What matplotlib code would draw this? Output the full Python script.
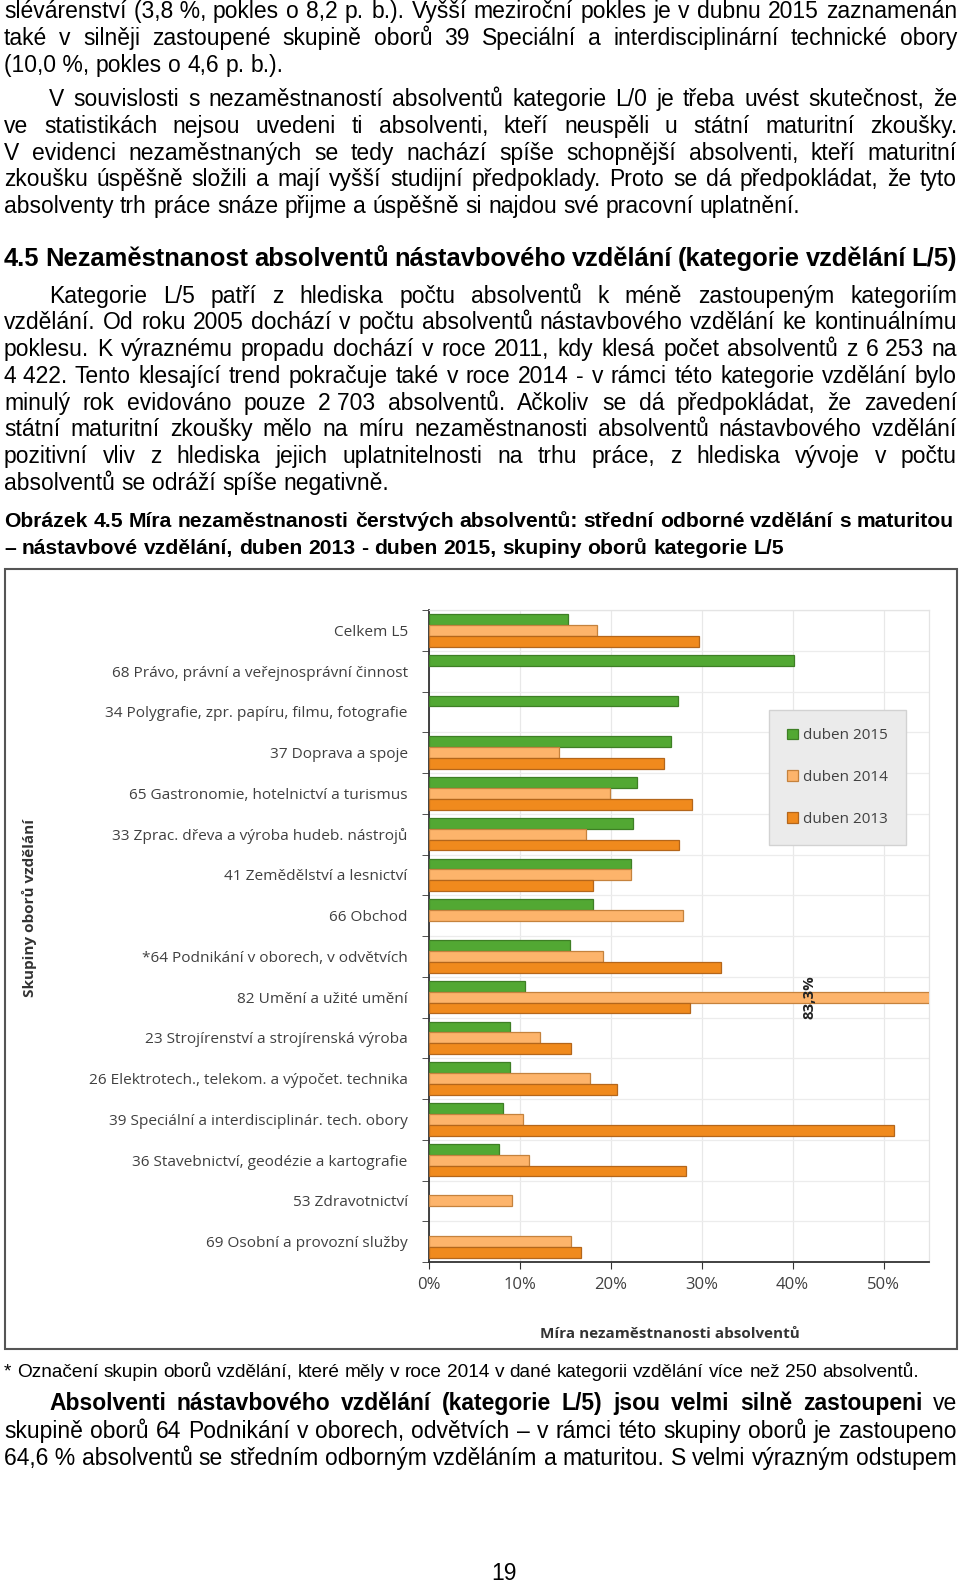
import matplotlib
matplotlib.use("Agg")
import matplotlib.pyplot as plt
from matplotlib.patches import Rectangle, Patch
import numpy as np

# ---- chart data ----
categories = [
    "Celkem L5",
    "68 Právo, právní a veřejnosprávní činnost",
    "34 Polygrafie, zpr. papíru, filmu, fotografie",
    "37 Doprava a spoje",
    "65 Gastronomie, hotelnictví a turismus",
    "33 Zprac. dřeva a výroba hudeb. nástrojů",
    "41 Zemědělství a lesnictví",
    "66 Obchod",
    "*64 Podnikání v oborech, v odvětvích",
    "82 Umění a užité umění",
    "23 Strojírenství a strojírenská výroba",
    "26 Elektrotech., telekom. a výpočet. technika",
    "39 Speciální a interdisciplinár. tech. obory",
    "36 Stavebnictví, geodézie a kartografie",
    "53 Zdravotnictví",
    "69 Osobní a provozní služby",
]
nan = np.nan
duben_2015 = [15.3, 40.2, 27.4, 26.7, 22.9, 22.5, 22.3, 18.1, 15.5, 10.6, 9.0, 9.0, 8.2, 7.7, nan, nan]
duben_2014 = [18.5, nan, nan, 14.3, 19.9, 17.3, 22.3, 28.0, 19.2, 83.3, 12.2, 17.8, 10.4, 11.0, 9.2, 15.7]
duben_2013 = [29.7, nan, nan, 25.9, 29.0, 27.5, 18.1, nan, 32.1, 28.7, 15.7, 20.7, 51.2, 28.3, nan, 16.8]
series_names = ["duben 2015", "duben 2014", "duben 2013"]
x_ticks = [0, 10, 20, 30, 40, 50]
x_ticklabels = ["0%", "10%", "20%", "30%", "40%", "50%"]

# ---- page text ----
par0 = [
    "slévárenství (3,8\u00a0%, pokles o 8,2 p. b.). Vyšší meziroční pokles je v dubnu 2015 zaznamenán",
    "také v silněji zastoupené skupině oborů 39 Speciální a interdisciplinární technické obory",
    "(10,0\u00a0%, pokles o 4,6 p. b.).",
]
par1 = [
    "V souvislosti s nezaměstnaností absolventů kategorie L/0 je třeba uvést skutečnost, že",
    "ve statistikách nejsou uvedeni ti absolventi, kteří neuspěli u státní maturitní zkoušky.",
    "V evidenci nezaměstnaných se tedy nachází spíše schopnější absolventi, kteří maturitní",
    "zkoušku úspěšně složili a mají vyšší studijní předpoklady. Proto se dá předpokládat, že tyto",
    "absolventy trh práce snáze přijme a úspěšně si najdou své pracovní uplatnění.",
]
heading = "4.5 Nezaměstnanost absolventů nástavbového vzdělání (kategorie vzdělání L/5)"
par2 = [
    "Kategorie L/5 patří z hlediska počtu absolventů k méně zastoupeným kategoriím",
    "vzdělání. Od roku 2005 dochází v počtu absolventů nástavbového vzdělání ke kontinuálnímu",
    "poklesu. K výraznému propadu dochází v roce 2011, kdy klesá počet absolventů z 6\u00a0253 na",
    "4\u00a0422. Tento klesající trend pokračuje také v roce 2014 - v rámci této kategorie vzdělání bylo",
    "minulý rok evidováno pouze 2\u00a0703 absolventů. Ačkoliv se dá předpokládat, že zavedení",
    "státní maturitní zkoušky mělo na míru nezaměstnanosti absolventů nástavbového vzdělání",
    "pozitivní vliv z hlediska jejich uplatnitelnosti na trhu práce, z hlediska vývoje v počtu",
    "absolventů se odráží spíše negativně.",
]
caption = [
    "Obrázek 4.5 Míra nezaměstnanosti čerstvých absolventů: střední odborné vzdělání s maturitou",
    "– nástavbové vzdělání, duben 2013 - duben 2015, skupiny oborů kategorie L/5",
]
footnote = "* Označení skupin oborů vzdělání, které měly v roce 2014 v dané kategorii vzdělání více než 250 absolventů."
par3_bold = "Absolventi nástavbového vzdělání (kategorie L/5) jsou velmi silně zastoupeni"
par3 = [
    "ve",
    "skupině oborů 64 Podnikání v oborech, odvětvích – v rámci této skupiny oborů je zastoupeno",
    "64,6\u00a0% absolventů se středním odborným vzděláním a maturitou. S velmi výrazným odstupem",
]
page_no = "19"

W, H = 960, 1584
BODY = "Liberation Sans"
CHART = "Open Sans"

fig = plt.figure(figsize=(W / 100, H / 100), dpi=100)
bg = fig.add_axes([0, 0, 1, 1])
bg.set_xlim(0, W)
bg.set_ylim(H, 0)
bg.axis("off")
rend = fig.canvas.get_renderer()


def text_w(s, **kw):
    t = bg.text(0, 0, s, **kw)
    w = t.get_window_extent(renderer=rend).width
    t.remove()
    return w


def put_line(yc, runs, x0=4, x1=957, justify=True, size=16.5):
    words = []
    for txt, wt in runs:
        for w in txt.split(" "):
            if w:
                words.append((w, wt))
    kw = dict(fontsize=size, family=BODY, va="baseline", color="black")
    widths = [text_w(w, fontweight=wt, **kw) for w, wt in words]
    if justify and len(words) > 1:
        gap = (x1 - x0 - sum(widths)) / (len(words) - 1)
    else:
        gap = text_w("a a", **kw) - text_w("aa", **kw)
    y = yc + 0.36 * size * 100 / 72
    x = x0
    for (w, wt), wd in zip(words, widths):
        bg.text(x, y, w, fontweight=wt, ha="left", **kw)
        x += wd + gap


def put_par(lines, y0, indent=True, last_just=False, step=26.7):
    for i, ln in enumerate(lines):
        last = i == len(lines) - 1
        put_line(y0 + i * step, [(ln, "normal")],
                 x0=49 if (indent and i == 0) else 4,
                 justify=(not last) or last_just)


put_par(par0, 10, indent=False)
put_par(par1, 98)
put_line(257, [(heading, "bold")], size=18.4)
put_par(par2, 294.5)
put_line(519, [(caption[0], "bold")], justify=False, size=15.2)
put_line(546, [(caption[1], "bold")], justify=False, size=15.2)
put_line(1370, [(footnote, "normal")], justify=False, size=13.7)
put_line(1402, [(par3_bold, "bold"), (par3[0], "normal")], x0=49)
put_line(1429.5, [(par3[1], "normal")])
put_line(1456.5, [(par3[2], "normal")])
bg.text(504, 1573, page_no, fontsize=16.5, family=BODY, ha="center", va="center")

# chart frame
bg.add_patch(Rectangle((5, 569), 952, 780, fill=False, ec="#555555", lw=1.5))

# ---- chart ----
ax = fig.add_axes([428.5 / W, 1 - 1262 / H, (929 - 428.5) / W, (1262 - 610) / H])
ypos = np.arange(len(categories))
h = 0.8 / 3
styles = [("#52a833", "#3e7f25"), ("#fdb46b", "#c5823d"), ("#f08a1d", "#b4661b")]
for k, (vals, (fc, ec)) in enumerate(zip([duben_2015, duben_2014, duben_2013], styles)):
    ax.barh(ypos + (k - 1) * h, vals, height=h, color=fc, edgecolor=ec, linewidth=0.9,
            label=series_names[k], zorder=3)

ax.set_xlim(0, 55)
ax.set_ylim(len(categories) - 0.5, -0.5)
ax.set_xticks(x_ticks)
ax.set_xticklabels(x_ticklabels, family=CHART, fontsize=12, color="#404040")
ax.set_yticks(ypos)
ax.set_yticklabels(categories, family=CHART, fontsize=11.1, color="#404040")
ax.set_yticks(np.arange(-0.5, len(categories), 1), minor=True)
ax.tick_params(axis="y", which="major", length=0, pad=15)
ax.tick_params(axis="y", which="minor", length=5, direction="out", color="#333333")
ax.tick_params(axis="x", which="major", length=5, direction="out", color="#333333", pad=6)
ax.grid(axis="x", which="major", color="#e8e8e8", lw=0.9, zorder=0)
ax.grid(axis="y", which="minor", color="#ececec", lw=0.9, zorder=0)
ax.set_axisbelow(True)
for s in ["left", "bottom"]:
    ax.spines[s].set_color("#333333")
    ax.spines[s].set_linewidth(1.3)
for s in ["top", "right"]:
    ax.spines[s].set_color("#e4e4e4")
    ax.spines[s].set_linewidth(0.9)

ax.text(41.9, 9, "83,3%", rotation=90, ha="center", va="center", family=CHART,
        fontsize=10.8, fontweight="bold", color="#222222")

ax.set_xlabel("Míra nezaměstnanosti absolventů", family=CHART, fontsize=11,
              fontweight="bold", color="#333333")
ax.xaxis.set_label_coords((670 - 428.5) / 500.5, -(1327 - 1262) / 652)
ax.set_ylabel("Skupiny oborů vzdělání", family=CHART, fontsize=11,
              fontweight="bold", color="#333333")
ax.yaxis.set_label_coords((37 - 428.5) / 500.5, 1 - (908 - 610) / 652)

handles = [Patch(facecolor=fc, edgecolor=ec, lw=0.9) for fc, ec in styles]
leg = ax.legend(handles, series_names, loc="upper left",
                bbox_to_anchor=(769 / W, 1 - 710 / H), bbox_transform=fig.transFigure,
                borderaxespad=0, frameon=True, fancybox=False, framealpha=1,
                facecolor="#ebebeb", edgecolor="#d2d2d2", handlelength=0.7,
                handleheight=0.7, handletextpad=0.3, labelspacing=1.75,
                borderpad=1.2, prop={"family": CHART, "size": 11})
for t in leg.get_texts():
    t.set_color("#404040")

fig.savefig("out.png", dpi=100)
